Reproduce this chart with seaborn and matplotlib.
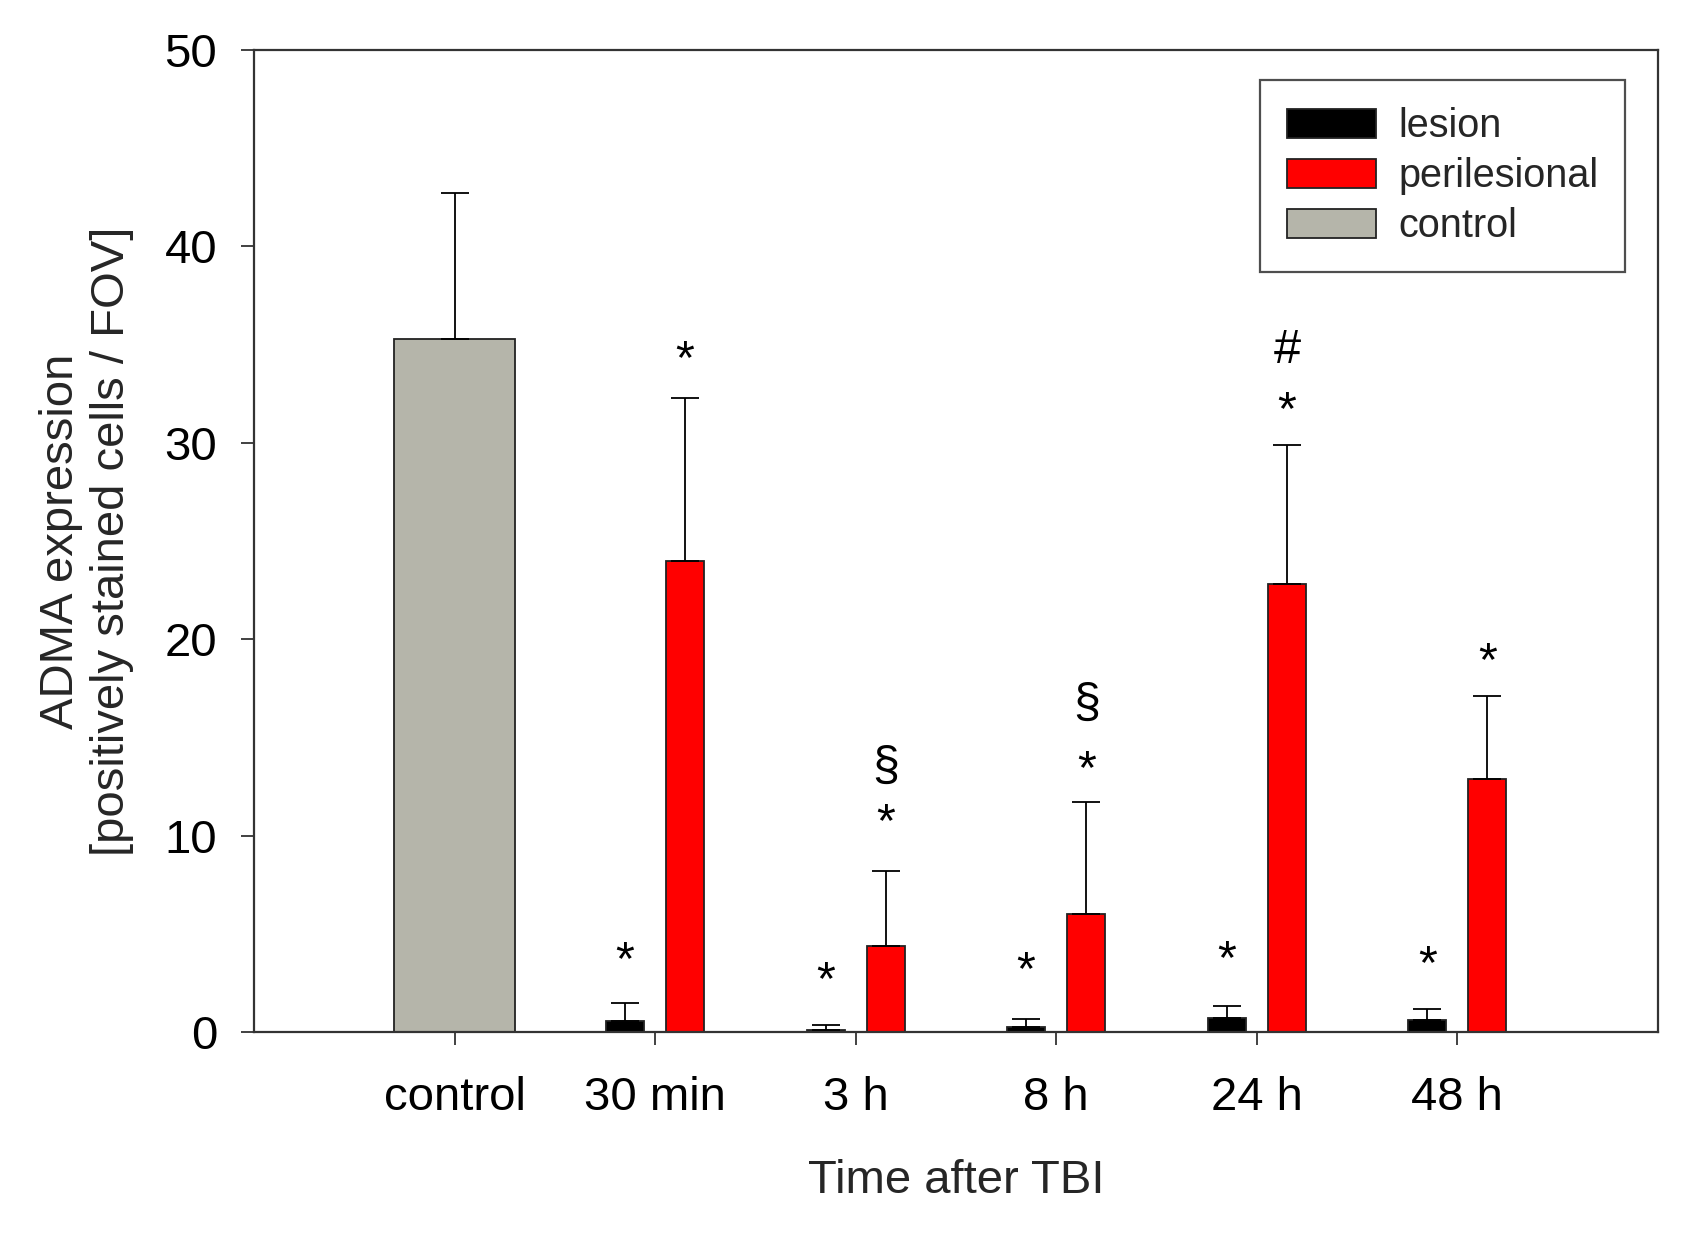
import numpy as np
import pandas as pd
import matplotlib
matplotlib.use("Agg")
import matplotlib.pyplot as plt
import seaborn as sns
from matplotlib.patches import Patch

# ---- data ----
categories = ["control", "30 min", "3 h", "8 h", "24 h", "48 h"]
time_points = ["30 min", "3 h", "8 h", "24 h", "48 h"]

control_mean = [35.3]
control_sd = [7.4]

lesion_mean = [0.55, 0.12, 0.25, 0.70, 0.60]
lesion_sd = [0.95, 0.23, 0.40, 0.60, 0.55]

peri_mean = [24.0, 4.4, 6.0, 22.8, 12.9]
peri_sd = [8.3, 3.8, 5.7, 7.1, 4.2]

# significance marks: (category, series, text, y-position)
annot_cat = ["30 min", "30 min", "3 h", "3 h", "3 h", "8 h", "8 h", "8 h",
             "24 h", "24 h", "24 h", "48 h", "48 h"]
annot_series = ["lesion", "perilesional", "lesion", "perilesional", "perilesional",
                "lesion", "perilesional", "perilesional",
                "lesion", "perilesional", "perilesional", "lesion", "perilesional"]
annot_text = ["*", "*", "*", "*", "§", "*", "*", "§", "*", "*", "#", "*", "*"]
annot_y = [3.6, 34.2, 2.55, 10.6, 13.5, 3.1, 13.3, 16.7, 3.65, 31.6, 34.7, 3.4, 18.8]

# ---- style ----
sns.set_style("ticks")
plt.rcParams["font.family"] = ["Liberation Sans", "DejaVu Sans"]

col_lesion = "#000000"
col_peri = "#ff0000"
col_ctrl = "#b5b5aa"
edge = "#222222"

offset = {"lesion": -0.15, "perilesional": 0.15, "control": 0.0}
pos = {c: i for i, c in enumerate(categories)}

df_ctrl = pd.DataFrame({"x": [pos["control"]], "y": control_mean, "sd": control_sd})
df_les = pd.DataFrame({"x": [pos[t] + offset["lesion"] for t in time_points],
                       "y": lesion_mean, "sd": lesion_sd})
df_peri = pd.DataFrame({"x": [pos[t] + offset["perilesional"] for t in time_points],
                        "y": peri_mean, "sd": peri_sd})

fig = plt.figure(figsize=(17.02, 12.33), dpi=100)
ax = fig.add_axes([0.1492, 0.1630, 0.9741 - 0.1492, 0.9594 - 0.1630])

bar_kw = dict(native_scale=True, errorbar=None, saturation=1,
              edgecolor=edge, linewidth=1.3, ax=ax, zorder=2)
sns.barplot(data=df_ctrl, x="x", y="y", color=col_ctrl, width=0.6, **bar_kw)
sns.barplot(data=df_les, x="x", y="y", color=col_lesion, width=0.19, **bar_kw)
sns.barplot(data=df_peri, x="x", y="y", color=col_peri, width=0.19, **bar_kw)

for d in (df_ctrl, df_les, df_peri):
    ax.errorbar(d["x"], d["y"], yerr=[np.zeros(len(d)), d["sd"]], fmt="none",
                ecolor="black", elinewidth=1.3, capsize=10, capthick=1.3, zorder=3)

for c, s, t, y in zip(annot_cat, annot_series, annot_text, annot_y):
    ax.text(pos[c] + offset[s], y, t, ha="center", va="center",
            fontsize=35, color="black", zorder=4)

ax.set_xlim(-1, 6)
ax.set_ylim(0, 50)
ax.set_xticks(range(len(categories)))
ax.set_xticklabels(categories)
ax.set_yticks([0, 10, 20, 30, 40, 50])

for sp in ax.spines.values():
    sp.set_visible(True)
    sp.set_linewidth(1.6)
    sp.set_color("#333333")

ax.tick_params(axis="both", which="major", direction="out", length=9.5,
               width=1.3, color="#333333", labelsize=34, labelcolor="black")
ax.tick_params(axis="y", pad=17)
ax.tick_params(axis="x", pad=22)

ax.set_xlabel("Time after TBI", fontsize=34, labelpad=28)
ax.set_ylabel("ADMA expression\n[positively stained cells / FOV]", fontsize=34,
              labelpad=22, linespacing=1.2)

handles = [Patch(facecolor=col_lesion, edgecolor=edge, linewidth=1.3, label="lesion"),
           Patch(facecolor=col_peri, edgecolor=edge, linewidth=1.3, label="perilesional"),
           Patch(facecolor=col_ctrl, edgecolor=edge, linewidth=1.3, label="control")]
leg = ax.legend(handles=handles, loc="upper right", bbox_to_anchor=(0.9766, 0.9696),
                borderaxespad=0, fontsize=28.5, frameon=True, fancybox=False,
                edgecolor="#222222", handlelength=2.25, handleheight=0.75,
                handletextpad=0.55, labelspacing=0.31, borderpad=0.68)
leg.get_frame().set_linewidth(1.6)

fig.savefig("out.png", dpi=100, facecolor="white")
